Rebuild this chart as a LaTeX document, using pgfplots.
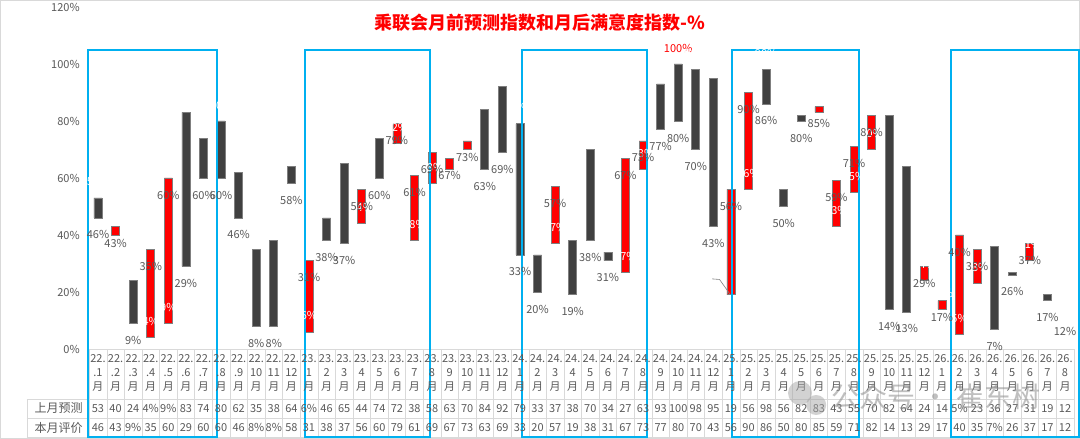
\documentclass[border=0pt]{standalone}
\usepackage{pgfplots}
\pgfplotsset{compat=1.18}
\usepackage{pgfplotstable}
\usepackage{fontspec}
\setmainfont{Noto Sans CJK SC}
\definecolor{labgray}{HTML}{595959}
\definecolor{bardark}{HTML}{404040}
\definecolor{barline}{HTML}{7F7F7F}
\definecolor{boxblue}{HTML}{00B0F0}
\definecolor{gridgray}{HTML}{D9D9D9}

% F = last month forecast, E = this month evaluation
\pgfplotstableread{
idx yr mo F E
0 22. .1 53 46
1 22. .2 40 43
2 22. .3 24 9
3 22. .4 4 35
4 22. .5 9 60
5 22. .6 83 29
6 22. .7 74 60
7 22. .8 80 60
8 22. .9 62 46
9 22. 10 35 8
10 22. 11 38 8
11 22. 12 64 58
12 23. 1 6 31
13 23. 2 46 38
14 23. 3 65 37
15 23. 4 44 56
16 23. 5 74 60
17 23. 6 72 79
18 23. 7 38 61
19 23. 8 58 69
20 23. 9 63 67
21 23. 10 70 73
22 23. 11 84 63
23 23. 12 92 69
24 24. 1 79 33
25 24. 2 33 20
26 24. 3 37 57
27 24. 4 38 19
28 24. 5 70 38
29 24. 6 34 31
30 24. 7 27 67
31 24. 8 63 73
32 24. 9 93 77
33 24. 10 100 80
34 24. 11 98 70
35 24. 12 95 43
36 25. 1 19 56
37 25. 2 56 90
38 25. 3 98 86
39 25. 4 56 50
40 25. 5 82 80
41 25. 6 83 85
42 25. 7 43 59
43 25. 8 55 71
44 25. 9 70 82
45 25. 10 82 14
46 25. 11 64 13
47 25. 12 24 29
48 26. 1 14 17
49 26. 2 5 40
50 26. 3 23 35
51 26. 4 36 7
52 26. 5 27 26
53 26. 6 31 37
54 26. 7 19 17
55 26. 8 12 12
}\data

\newcommand\tabfmt{\ifnum\pgfplotspointmeta<10 \pgfplotspointmeta\%\else\pgfplotspointmeta\fi}
% forecast label: white, the 100 one red, the moved 19 one left out
\newcommand\fclab{\ifnum\pgfplotspointmeta=19 \else\ifnum\pgfplotspointmeta=100 \color{red}\fi\pgfplotspointmeta\%\fi}

\pgfplotsset{
  base/.style={at={(0,0)}, anchor=south west, scale only axis,
    width=984.6pt, height=342pt, xmin=-0.5, xmax=55.5, ymin=0, ymax=120},
  lab/.style={only marks, mark=none, point meta=explicit symbolic,
    every node near coord/.append style={anchor=center, inner sep=0pt,
      font=\fontsize{11}{13}\selectfont, #1}},
}

\begin{document}
\begin{tikzpicture}[font=\fontsize{11}{13}\selectfont]
\path[use as bounding box] (-89.2pt,-90pt) rectangle (990.8pt,349pt);
\fill[white] (-89.2pt,-90pt) rectangle (990.8pt,349pt);
\draw[gridgray] (-88.7pt,-89.5pt) rectangle (990.3pt,348.5pt);

\begin{axis}[base, ybar stacked, bar width=8pt,
  axis line style={draw=none}, major tick length=0pt, xtick=\empty,
  ytick={0,20,...,120},
  yticklabels={0\%,20\%,40\%,60\%,80\%,100\%,120\%},
  yticklabel style={text=labgray, font=\fontsize{11}{13}\selectfont, xshift=-6pt}]
\addplot[draw=none, fill=none] table[x=idx, y expr={min(\thisrow{F},\thisrow{E})}] {\data};
\addplot[fill=red, draw=barline, line width=0.7pt] table[x=idx, y expr={max(\thisrow{E}-\thisrow{F},0)}] {\data};
\addplot[fill=bardark, draw=barline, line width=0.7pt] table[x=idx, y expr={max(\thisrow{F}-\thisrow{E},0)}] {\data};
\end{axis}

\begin{axis}[base, hide axis, clip=false]
% forecast labels
\addplot[lab={yshift=16pt, text=white}, nodes near coords={\fclab}]
  table[x=idx, y=F, meta=F] {\data};
% evaluation labels
\addplot[lab={yshift=-17pt, text=labgray}, nodes near coords={\pgfplotspointmeta\%}]
  table[x=idx, y=E, meta=E] {\data};
% table header, three lines
\addplot[lab={yshift=-10pt, text=labgray}, nodes near coords]
  table[x=idx, y expr=0, meta=yr] {\data};
\addplot[lab={yshift=-24pt, text=labgray}, nodes near coords]
  table[x=idx, y expr=0, meta=mo] {\data};
\addplot[lab={yshift=-38pt, text=labgray}, nodes near coords={月}]
  table[x=idx, y expr=0, meta=F] {\data};
% table rows
\addplot[lab={yshift=-59.5pt, text=labgray}, nodes near coords={\tabfmt}]
  table[x=idx, y expr=0, meta=F] {\data};
\addplot[lab={yshift=-78.5pt, text=labgray}, nodes near coords={\tabfmt}]
  table[x=idx, y expr=0, meta=E] {\data};

\pgfplotsinvokeforeach{0,...,56}{
  \draw[gridgray] (axis cs:#1-0.5,0) -- ([yshift=-88pt]axis cs:#1-0.5,0);
}
\draw[gridgray] (axis cs:-0.5,0) -- (axis cs:55.5,0);
\draw[gridgray] ([xshift=-62.2pt,yshift=-50pt]axis cs:-0.5,0) -- ([yshift=-50pt]axis cs:55.5,0);
\draw[gridgray] ([xshift=-62.2pt,yshift=-69pt]axis cs:-0.5,0) -- ([yshift=-69pt]axis cs:55.5,0);
\draw[gridgray] ([xshift=-62.2pt,yshift=-88pt]axis cs:-0.5,0) -- ([yshift=-88pt]axis cs:55.5,0);
\draw[gridgray] ([xshift=-62.2pt,yshift=-50pt]axis cs:-0.5,0) -- ([xshift=-62.2pt,yshift=-88pt]axis cs:-0.5,0);
\node[anchor=east, text=labgray, font=\fontsize{12}{14}\selectfont] at ([xshift=-3pt,yshift=-59.5pt]axis cs:-0.5,0) {上月预测};
\node[anchor=east, text=labgray, font=\fontsize{12}{14}\selectfont] at ([xshift=-3pt,yshift=-78.5pt]axis cs:-0.5,0) {本月评价};

% leader line of a moved label
\draw[barline, line width=0.6pt] (axis cs:34.93,24.6) -- (axis cs:35.35,24.4) -- (axis cs:35.95,19.2);

% highlight boxes
\draw[boxblue, line width=1.5pt] ([yshift=-88pt]axis cs:-0.57,0) rectangle (axis cs:6.77,104.9);
\draw[boxblue, line width=1.5pt] ([yshift=-88pt]axis cs:11.77,0) rectangle (axis cs:18.88,104.9);
\draw[boxblue, line width=1.5pt] ([yshift=-88pt]axis cs:24.12,0) rectangle (axis cs:31.23,104.9);
\draw[boxblue, line width=1.5pt] ([yshift=-88pt]axis cs:36.06,0) rectangle (axis cs:43.29,104.9);
\draw[boxblue, line width=1.5pt] ([yshift=-88pt]axis cs:48.52,0) rectangle (axis cs:55.8,104.9);
\end{axis}

\node[text=red, font=\fontsize{18}{20}\selectfont\bfseries] at (450.8pt,326.5pt) {乘联会月前预测指数和月后满意度指数-\%};

% watermark
\fill[black!35, opacity=0.5] (710.8pt,-44pt) circle (12pt);
\fill[black!35, opacity=0.5] (727pt,-56pt) circle (10pt);
\node[text=black!45, opacity=0.55, font=\fontsize{28}{30}\selectfont] at (846.8pt,-48pt) {公众号 · 崔东树};
\end{tikzpicture}
\end{document}
